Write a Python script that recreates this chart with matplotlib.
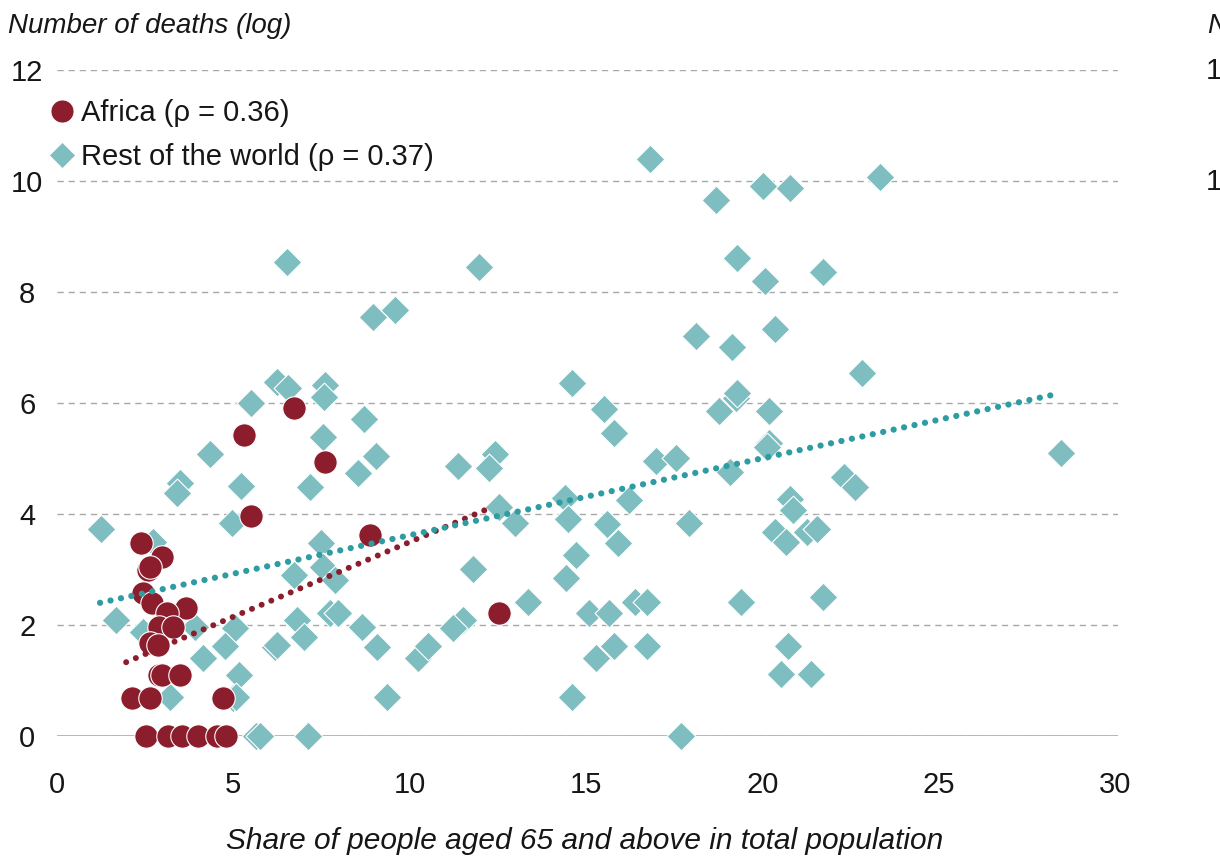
import matplotlib
matplotlib.use("Agg")
import matplotlib.pyplot as plt
from matplotlib.lines import Line2D

plt.rcParams["font.family"] = ["Liberation Sans", "DejaVu Sans"]

# Africa: share aged 65+ (%) vs log number of deaths
africa_x = [2.38, 2.98, 2.58, 2.65, 2.44, 2.69, 3.66, 3.12, 2.89, 3.29,
            2.64, 2.86, 2.90, 2.98, 3.49, 2.13, 2.64, 4.71, 2.52, 3.15,
            3.54, 4.00, 4.54, 4.79, 6.72, 5.30, 7.60, 5.50, 8.87, 12.53]
africa_y = [3.48, 3.23, 2.99, 3.05, 2.58, 2.40, 2.31, 2.22, 1.96, 1.96,
            1.68, 1.64, 1.10, 1.10, 1.10, 0.68, 0.68, 0.68, 0.00, 0.00,
            0.00, 0.00, 0.00, 0.00, 5.91, 5.42, 4.94, 3.96, 3.62, 2.22]

# Rest of the world
rest_x = [3.49, 3.40, 5.22, 4.96, 1.25, 2.72, 1.67, 2.44, 3.91, 5.05,
          4.76, 4.14, 6.18, 5.16, 3.20, 4.99, 5.08, 5.64, 5.75, 6.24,
          6.55, 7.60, 7.57, 5.50, 8.70, 7.54, 9.04, 8.53, 4.34, 7.17,
          7.49, 6.72, 7.54, 7.88, 6.80, 7.00, 7.74, 7.97, 6.24, 8.65,
          9.07, 9.36, 10.24, 10.52, 7.12, 6.52, 11.96, 9.58, 8.96, 18.12,
          14.60, 15.51, 15.79, 11.37, 12.42, 12.25, 16.98, 17.55, 14.40, 16.22,
          12.53, 12.99, 14.49, 15.59, 17.92, 15.91, 14.72, 11.79, 14.43, 13.35,
          15.08, 15.65, 16.39, 16.73, 11.51, 11.23, 15.28, 15.79, 16.73, 14.60,
          17.69, 16.81, 23.33, 18.68, 20.02, 20.78, 19.28, 20.07, 21.72, 19.14,
          20.36, 22.82, 18.77, 19.25, 19.28, 20.19, 19.08, 20.19, 20.13, 22.31,
          22.63, 20.78, 20.87, 20.36, 20.67, 21.26, 21.55, 19.39, 21.72, 20.73,
          20.53, 21.38, 28.47]
rest_y = [4.56, 4.38, 4.50, 3.84, 3.73, 3.50, 2.09, 1.87, 1.96, 1.95,
          1.62, 1.41, 1.60, 1.10, 0.70, 0.68, 0.70, 0.00, 0.00, 6.38,
          6.27, 6.32, 6.11, 6.00, 5.71, 5.39, 5.04, 4.74, 5.08, 4.49,
          3.47, 2.90, 3.05, 2.81, 2.09, 1.78, 2.22, 2.22, 1.64, 1.96,
          1.60, 0.70, 1.40, 1.62, 0.00, 8.54, 8.45, 7.68, 7.55, 7.21,
          6.36, 5.89, 5.46, 4.86, 5.08, 4.83, 4.95, 5.01, 4.29, 4.25,
          4.13, 3.84, 3.91, 3.82, 3.84, 3.47, 3.26, 3.01, 2.85, 2.41,
          2.22, 2.22, 2.41, 2.41, 2.09, 1.95, 1.40, 1.62, 1.62, 0.70,
          0.00, 10.40, 10.07, 9.66, 9.91, 9.87, 8.61, 8.20, 8.36, 7.01,
          7.33, 6.54, 5.86, 6.09, 6.18, 5.86, 4.76, 5.28, 5.21, 4.67,
          4.49, 4.27, 4.07, 3.68, 3.50, 3.68, 3.73, 2.41, 2.50, 1.62,
          1.12, 1.12, 5.10]

# Fitted trend lines (endpoints)
africa_fit_x = [1.96, 12.28]
africa_fit_y = [1.33, 4.11]
rest_fit_x = [1.22, 28.33]
rest_fit_y = [2.40, 6.16]

y_ticks = [0, 2, 4, 6, 8, 10, 12]
x_ticks = [0, 5, 10, 15, 20, 25, 30]

RED = "#8b1d2c"
TEAL_MARK = "#7fbec0"
TEAL_LINE = "#2e9ca2"
TEXT = "#161616"
GRID = "#a8a8a8"

W, H = 1220, 856
fig = plt.figure(figsize=(W / 100, H / 100), dpi=100)
ax = fig.add_axes([57 / W, 120 / H, 1061 / W, 666 / H])
ax.set_xlim(0, 30.08)
ax.set_ylim(0, 12)

for s in ax.spines.values():
    s.set_visible(False)

ax.set_yticks(y_ticks)
ax.set_xticks(x_ticks)
ax.set_yticklabels([str(t) for t in y_ticks])
ax.set_xticklabels([str(t) for t in x_ticks])
ax.tick_params(axis="both", length=0, labelsize=21, colors=TEXT)
ax.tick_params(axis="y", pad=21.5)
ax.tick_params(axis="x", pad=25)
for lbl in ax.get_yticklabels():
    lbl.set_horizontalalignment("center")

ax.grid(axis="y", color=GRID, linestyle=(0, (4.5, 3.5)), linewidth=1.0)
ax.grid(axis="x", visible=False)
ax.axhline(0, color="#b3b3b3", linewidth=2.0, zorder=1.5)

ax.scatter(rest_x, rest_y, marker="D", s=215, color=TEAL_MARK,
           edgecolors="white", linewidths=0.8, zorder=3, clip_on=False)
ax.scatter(africa_x, africa_y, marker="o", s=285, color=RED,
           edgecolors="white", linewidths=0.8, zorder=4, clip_on=False)

ax.plot(africa_fit_x, africa_fit_y, color=RED, linewidth=4.3,
        linestyle=(0, (0.01, 1.75)), dash_capstyle="round", zorder=5)
ax.plot(rest_fit_x, rest_fit_y, color=TEAL_LINE, linewidth=4.5,
        linestyle=(0, (0.01, 1.7)), dash_capstyle="round", zorder=6)

handles = [
    Line2D([], [], marker="o", linestyle="none", markersize=16.5,
           markerfacecolor=RED, markeredgecolor="white", markeredgewidth=0.5),
    Line2D([], [], marker="D", linestyle="none", markersize=13,
           markerfacecolor=TEAL_MARK, markeredgecolor="white", markeredgewidth=0.5),
]
labels = ["Africa (ρ = 0.36)", "Rest of the world (ρ = 0.37)"]
leg = ax.legend(handles, labels, loc="upper left",
                bbox_to_anchor=(50 / W, (H - 99) / H), bbox_transform=fig.transFigure,
                frameon=False, fontsize=21, handlelength=0.8, handletextpad=0.25,
                labelspacing=0.55, borderaxespad=0, borderpad=0)
for t in leg.get_texts():
    t.set_color(TEXT)

fig.text(8 / W, 1 - 26 / H, "Number of deaths (log)", fontsize=20,
         style="italic", color=TEXT, ha="left", va="center")
fig.text(585 / W, 1 - 841 / H, "Share of people aged 65 and above in total population",
         fontsize=21.5, style="italic", color=TEXT, ha="center", va="center")

# Neighbouring panel, cut off at the right edge
fig.text(1208 / W, 1 - 26 / H, "Number of deaths (log)", fontsize=20,
         style="italic", color=TEXT, ha="left", va="center")
fig.text(1206 / W, 1 - 71 / H, "12", fontsize=21, color=TEXT, ha="left", va="center")
fig.text(1206 / W, 1 - 182 / H, "10", fontsize=21, color=TEXT, ha="left", va="center")

fig.savefig("out.png", dpi=100, facecolor="white")
